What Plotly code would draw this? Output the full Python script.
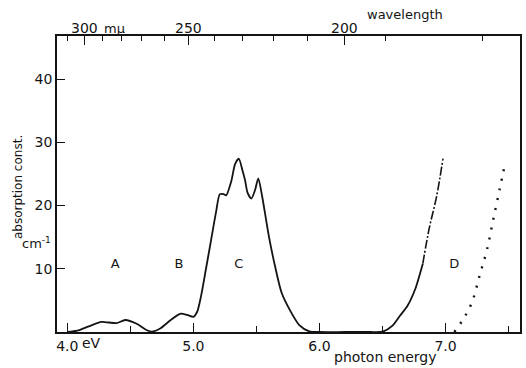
import plotly.graph_objects as go

# ---------------- data ----------------
# main absorption curve (solid part), photon energy in eV vs absorption const (cm^-1)
energy_main = [4.00, 4.08, 4.17, 4.27, 4.33, 4.39, 4.46, 4.55, 4.62, 4.67, 4.74, 4.82, 4.90, 4.95,
               5.00, 5.03, 5.06, 5.10, 5.14, 5.18, 5.21, 5.24, 5.26, 5.30, 5.33, 5.36, 5.39, 5.41,
               5.43, 5.46, 5.49, 5.515, 5.545, 5.60, 5.65, 5.70, 5.77, 5.84, 5.92, 6.00, 6.20,
               6.40, 6.50, 6.58, 6.64, 6.70, 6.76, 6.82]
absorb_main = [0.0, 0.2, 0.9, 1.6, 1.5, 1.4, 1.9, 1.3, 0.4, 0.05, 0.6, 1.9, 2.9, 2.7,
               2.4, 3.2, 5.6, 10.0, 14.5, 19.0, 21.8, 21.8, 21.6, 23.8, 26.5, 27.4, 25.5, 24.0,
               22.0, 21.1, 22.5, 24.3, 21.5, 15.0, 10.2, 6.2, 3.3, 1.1, 0.1, 0.0, 0.0,
               0.0, 0.05, 1.0, 2.6, 4.2, 6.8, 10.8]
# upper part of band D (dash-dot in original)
energy_d = [6.82, 6.87, 6.93, 6.98]
absorb_d = [10.8, 16.3, 21.5, 27.4]
# dotted curve
energy_dot = [7.07, 7.14, 7.21, 7.27, 7.33, 7.38, 7.43, 7.47]
absorb_dot = [0.0, 2.0, 4.7, 8.9, 13.1, 17.9, 22.6, 26.4]

# axis ticks
x_major = [4.0, 5.0, 6.0, 7.0]
x_major_text = ["4.0", "5.0", "6.0", "7.0"]
x_minor = [4.5, 5.5, 6.5, 7.5]
y_ticks = [10, 20, 30, 40]
wl_major = [300, 250, 200]
wl_major_text = ["300", "250", "200"]
wl_minor = [310, 290, 280, 270, 260, 240, 230, 220, 210, 190, 170]

# band labels
band_names = ["A", "B", "C", "D"]
band_energy = [4.38, 4.885, 5.36, 7.07]
band_level = [10.6, 10.6, 10.6, 10.6]

HC = 1239.8  # eV*nm
X_RANGE = [3.918, 7.591]
Y_RANGE = [0, 46.8]

W, H = 526, 368
L, R, T, B = 57, 5.5, 36, 36
pw, ph = W - L - R, H - T - B


def px(x):
    return (x - L) / pw


def py(y):
    return (H - B - y) / ph


FONT = "DejaVu Sans"
INK = "#141414"

fig = go.Figure()
fig.add_trace(go.Scatter(x=energy_main, y=absorb_main, mode="lines",
                         line=dict(color=INK, width=1.8, shape="spline", smoothing=0.7),
                         hoverinfo="skip", showlegend=False))
fig.add_trace(go.Scatter(x=energy_d, y=absorb_d, mode="lines",
                         line=dict(color=INK, width=1.6, shape="spline", dash="9px,2px,2px,2px"),
                         hoverinfo="skip", showlegend=False))
fig.add_trace(go.Scatter(x=energy_dot, y=absorb_dot, mode="lines",
                         line=dict(color=INK, width=2.4, shape="spline", dash="2px,8px"),
                         hoverinfo="skip", showlegend=False))
# invisible trace for the top (wavelength) axis
fig.add_trace(go.Scatter(x=[X_RANGE[0]], y=[0], xaxis="x2", mode="markers",
                         marker=dict(opacity=0), hoverinfo="skip", showlegend=False))

fig.add_trace(go.Scatter(x=band_energy, y=band_level, mode="text", text=band_names,
                         textfont=dict(family=FONT, size=13, color=INK),
                         hoverinfo="skip", showlegend=False))

fig.update_layout(
    width=W, height=H,
    margin=dict(l=L, r=R, t=T, b=B, pad=0, autoexpand=False),
    paper_bgcolor="white", plot_bgcolor="white",
    font=dict(family=FONT, color=INK),
    xaxis=dict(range=X_RANGE, showgrid=False, zeroline=False, showline=True, linecolor=INK,
               linewidth=1.8, mirror=False, ticks="inside", ticklen=9, tickwidth=1.3,
               automargin=False,
               tickcolor=INK, tickmode="array", tickvals=x_major, ticktext=x_major_text,
               tickfont=dict(size=14, family=FONT, color=INK),
               minor=dict(tickmode="array", tickvals=x_minor, ticks="inside", ticklen=6,
                          tickwidth=1.3, tickcolor=INK, showgrid=False)),
    xaxis2=dict(range=X_RANGE, overlaying="x", side="top", anchor="y", showgrid=False,
                zeroline=False, showline=True, linecolor=INK, linewidth=1.8,
                automargin=False, showticklabels=False,
                ticks="inside", ticklen=9, tickwidth=1.3, tickcolor=INK, tickmode="array",
                tickvals=[HC / w for w in wl_major],
                minor=dict(tickmode="array", tickvals=[HC / w for w in wl_minor],
                           ticks="inside", ticklen=5, tickwidth=1.3, tickcolor=INK,
                           showgrid=False)),
    yaxis=dict(range=Y_RANGE, showgrid=False, zeroline=False, showline=True, linecolor=INK,
               linewidth=1.8, mirror=True, ticks="inside", ticklen=8, tickwidth=1.3,
               automargin=False,
               tickcolor=INK, tickmode="array", tickvals=y_ticks,
               tickfont=dict(size=14, family=FONT, color=INK)),
)

# wavelength tick labels (top axis)
for w, t in zip(wl_major, wl_major_text):
    fig.add_annotation(text=t, xref="x", yref="paper", x=HC / w, y=py(28), showarrow=False,
                       xanchor="center", yanchor="middle",
                       font=dict(family=FONT, size=14, color=INK))

ann = [
    dict(text="mμ", x=px(115), y=py(28), size=13),
    dict(text="wavelength", x=px(405), y=py(15), size=13),
    dict(text="eV", x=px(92), y=py(343), size=14),
    dict(text="photon energy", x=px(385), y=py(357), size=14),
    dict(text="cm<sup>-1</sup>", x=px(36), y=py(243), size=13),
]
for a in ann:
    size = a.pop("size")
    fig.add_annotation(xref="paper", yref="paper", showarrow=False,
                       xanchor="center", yanchor="middle",
                       font=dict(family=FONT, size=size, color=INK), **a)
fig.add_annotation(text="absorption const.", xref="paper", yref="paper", x=px(18), y=py(187),
                   textangle=-90, showarrow=False, xanchor="center", yanchor="middle",
                   font=dict(family=FONT, size=12, color=INK))

fig.write_html("out.html", config={"displayModeBar": False},
               post_script="document.body.style.margin='0';document.body.style.padding='0';")
